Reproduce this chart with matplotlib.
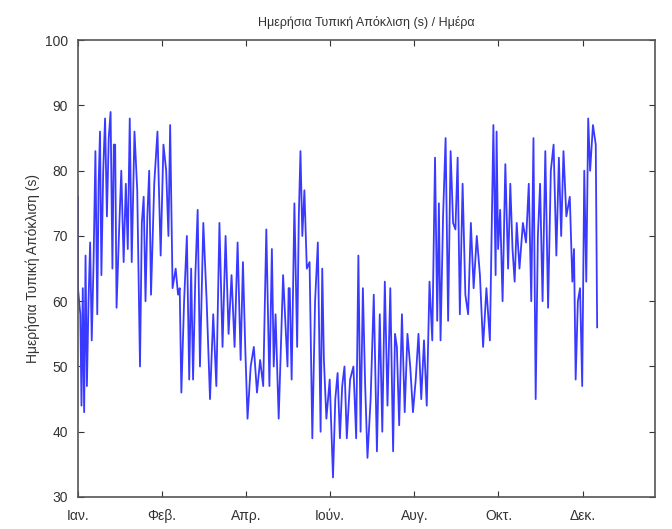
import numpy as np
import matplotlib.pyplot as plt

# Daily standard deviation (s).
# group_days: approximate day of each group, group_values: the daily values around it
group_days = [0, 3, 6.5, 10, 14, 17, 21, 25, 28, 34, 39, 45, 49, 53, 60, 65, 67.5, 72,
              75, 80, 83.5, 88.5, 97, 106, 112.5, 118, 123, 131, 140, 144, 152, 154,
              159, 162, 165, 170, 176, 179, 185, 190, 195, 201, 205, 210, 218, 223.5,
              228.6, 232, 237, 243, 248, 252, 256, 260, 263, 268.5, 273, 277, 282, 287,
              295, 302.6, 304, 307, 312, 316, 319, 324, 328, 332, 336, 341, 348, 353,
              358, 361, 365, 368, 371.5, 376.6]
group_values = [
    [76, 62, 60], [58, 44, 62, 43], [67, 47, 60], [69, 54, 66], [83, 58, 78],
    [86, 64, 80], [88, 73, 85], [89, 65, 84], [84, 59, 70], [80, 66, 78, 68],
    [88, 66, 86], [77, 50, 72], [76, 60, 73], [80, 61, 78], [86, 67, 84],
    [80, 70], [87, 62], [65, 61], [62, 46, 60], [70, 48], [65, 48, 64],
    [74, 50, 72], [60, 45, 58, 47], [72, 53, 70, 55], [64, 53], [69, 51, 66],
    [53, 42, 50], [53, 46, 51, 47], [71, 47, 68, 50], [58, 42], [64, 50, 62],
    [62, 48], [75, 53, 73], [83, 70], [77, 65], [66, 39, 60], [69, 40, 65],
    [51, 42], [48, 33, 45], [49, 39, 47], [50, 39, 48], [50, 39], [67, 40, 62],
    [47, 36, 45], [61, 37, 58, 40], [63, 44], [62, 37, 55], [53, 41],
    [58, 43, 55], [50, 43, 48], [55, 45], [54, 44], [63, 54], [82, 57],
    [75, 54, 73], [85, 57, 83], [72, 71], [82, 58, 78], [61, 58], [72, 62, 70],
    [64, 53, 62, 54], [87, 64], [86, 68], [74, 60], [81, 65, 78], [68, 63],
    [72, 65], [72, 69], [78, 60], [85, 45, 70], [78, 60], [83, 59, 80],
    [84, 67, 82, 70], [83, 73], [76, 63], [68, 48, 60], [62, 47], [80, 63],
    [88, 80, 87], [84, 56],
]

month_ticks = [0, 61, 122, 183, 244, 305, 366]
month_labels = ['Ιαν.', 'Φεβ.', 'Απρ.', 'Ιούν.', 'Αυγ.', 'Οκτ.', 'Δεκ.']

# spread each group's values over the days around its centre
values = np.concatenate([np.array(v, dtype=float) for v in group_values])
centre_idx = []
pos = 0
for v in group_values:
    centre_idx.append(pos + (len(v) - 1) / 2)
    pos += len(v)
days = np.interp(np.arange(len(values)), centre_idx, group_days)

plt.rcParams['font.family'] = ['Liberation Sans', 'DejaVu Sans']

fig = plt.figure(figsize=(6.72, 5.29), dpi=100)
ax = fig.add_axes([0.116, 0.0605, 0.859, 0.8635])

ax.plot(days, values, color='#3a3aff', linewidth=1.3)

ax.set_xlim(0, 418.7)
ax.set_ylim(30, 100)
ax.set_xticks(month_ticks)
ax.set_xticklabels(month_labels)
ax.set_yticks(range(30, 101, 10))
ax.tick_params(direction='in', top=True, right=True, labelsize=10, length=4, colors='#333333')
ax.tick_params(axis='x', pad=9)
ax.tick_params(axis='y', pad=7)
for side in ax.spines.values():
    side.set_color('#555555')
    side.set_linewidth(1.2)

ax.set_ylabel('Ημερήσια Τυπική Απόκλιση (s)', fontsize=10, color='#333333')
ax.set_title('Ημερήσια Τυπική Απόκλιση (s) / Ημέρα', fontsize=9, color='#333333', pad=10)

fig.savefig('out.png', dpi=100)
